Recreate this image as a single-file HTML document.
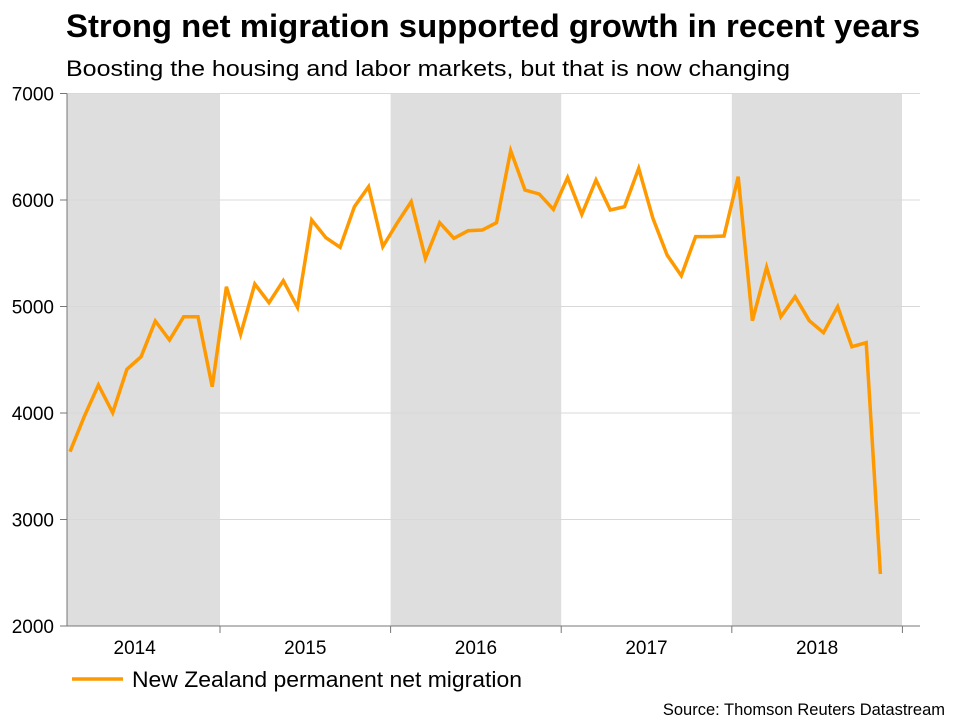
<!DOCTYPE html>
<html><head><meta charset="utf-8"><style>
body{margin:0;background:#fff;font-family:"Liberation Sans",Arial,sans-serif;}
svg{display:block}
</style></head><body>
<svg id="chart" width="960" height="720">
<text x="66" y="37" font-size="32" font-weight="bold" fill="#000" textLength="854" lengthAdjust="spacingAndGlyphs">Strong net migration supported growth in recent years</text>
<text x="66" y="76" font-size="22" fill="#000" textLength="724" lengthAdjust="spacingAndGlyphs">Boosting the housing and labor markets, but that is now changing</text>
<g id="bands"></g><g id="grid"></g><g id="axes"></g><g id="series"></g>
<line x1="72" y1="679" x2="123" y2="679" stroke="#ff9900" stroke-width="3.5"/>
<text x="132" y="687" font-size="22" fill="#000" textLength="390" lengthAdjust="spacingAndGlyphs">New Zealand permanent net migration</text>
<text x="945" y="715" font-size="16.5" fill="#000" text-anchor="end">Source: Thomson Reuters Datastream</text>
</svg>
<script>
const years=[2014,2015,2016,2017,2018];
const yTicks=[2000,3000,4000,5000,6000,7000];
const firstMonth=1.45; // months since Jan 2014 of first observation
const values=[3637,3965,4263,4003,4410,4529,4864,4685,4904,4904,4247,5186,4739,5211,5036,5242,4992,5812,5646,5556,5937,6125,5562,5781,5984,5452,5787,5640,5712,5718,5787,6463,6094,6056,5912,6210,5865,6188,5906,5937,6297,5828,5484,5289,5656,5656,5662,6219,4867,5368,4904,5092,4867,4754,4998,4623,4660,2488];
const NS='http://www.w3.org/2000/svg';
const X0=67,X1=920,Y0=626,Y1=93.5;
function xOf(m){return 220+(m-12)*14.217;}
function yOf(v){return Y0-(v-2000)/5000*(Y0-Y1);}
function mk(t,a,p){const e=document.createElementNS(NS,t);for(const k in a)e.setAttribute(k,a[k]);p.appendChild(e);return e;}
const bands=document.getElementById('bands'),grid=document.getElementById('grid'),axes=document.getElementById('axes'),series=document.getElementById('series');
years.forEach((yr,i)=>{
  const a=xOf(i*12),b=xOf(i*12+12);
  if(i%2===0){
    const r=mk('rect',{x:Math.max(a,X0),y:Y1,width:Math.min(b,902)-Math.max(a,X0),height:Y0-Y1,fill:'#dedede'},bands);
    
    
  }
  const t=mk('text',{x:(a+b)/2,y:654,'font-size':19,'text-anchor':'middle',fill:'#000'},axes);
  t.textContent=yr;
  
  
  if(i>0){
    const tk=mk('line',{x1:a,y1:Y0,x2:a,y2:Y0+7,stroke:'#777'},axes);
    
    
  }
});
const lastTk=mk('line',{x1:xOf(60),y1:Y0,x2:xOf(60),y2:Y0+7,stroke:'#777'},axes);


yTicks.forEach(v=>{
  const y=yOf(v);
  if(v>2000){
    const g=mk('line',{x1:X0,y1:y,x2:X1,y2:y,stroke:'#d8d8d8','stroke-width':1},grid);
    
    
  }
  const tk=mk('line',{x1:X0-7,y1:y,x2:X0,y2:y,stroke:'#777'},axes);
  
  
  const t=mk('text',{x:X0-13,y:y+7,'font-size':19,'text-anchor':'end',fill:'#000'},axes);
  t.textContent=v;
  
  
});
const ya=mk('line',{x1:X0,y1:Y1,x2:X0,y2:Y0,stroke:'#777'},axes);


const xa=mk('line',{x1:X0,y1:Y0,x2:X1,y2:Y0,stroke:'#777'},axes);


const pts=values.map((v,i)=>xOf(firstMonth+i).toFixed(1)+','+yOf(v).toFixed(1)).join(' ');
const pl=mk('polyline',{points:pts,fill:'none',stroke:'#ff9900','stroke-width':3.5,'stroke-linejoin':'miter'},series);


</script>
</body></html>
